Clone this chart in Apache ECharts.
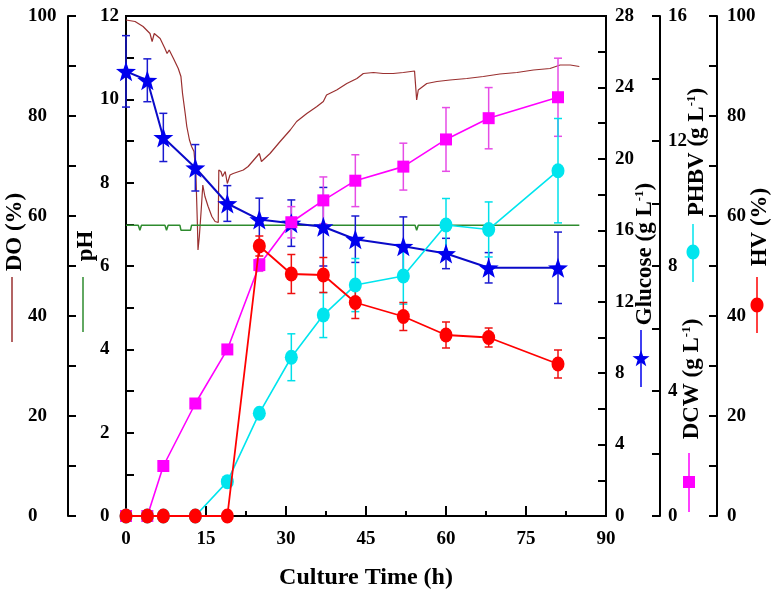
<!DOCTYPE html>
<html>
<head>
<meta charset="utf-8">
<script src="https://cdn.jsdelivr.net/npm/echarts@6/dist/echarts.min.js"></script>
<style>
  html, body { margin: 0; padding: 0; background: #fff; }
  #chart { width: 776px; height: 606px; }
</style>
</head>
<body>
<div id="chart"></div>
<script>
// sampling times (h)
const times = [0, 4, 7, 13, 19, 25, 31, 37, 43, 52, 60, 68, 81];

const glucose = [24.9, 24.4, 21.2, 19.5, 17.5, 16.6, 16.4, 16.2, 15.5, 15.1, 14.7, 13.9, 13.9];
const glucoseErr = [2.0, 1.2, 1.35, 1.3, 1.0, 1.2, 1.3, 2.2, 1.3, 1.65, 0.85, 0.85, 2.0];

const dcw = [0, 0, 1.6, 3.6, 5.33, 8.03, 9.4, 10.1, 10.73, 11.18, 12.05, 12.73, 13.4];
const dcwErr = [0, 0, 0.08, 0.12, 0.1, 0.2, 0.5, 0.75, 0.83, 0.75, 1.02, 0.98, 1.25];

const phbv = [0, 0, 0, 0, 1.1, 3.29, 5.08, 6.43, 7.39, 7.68, 9.31, 9.17, 11.05];
const phbvErr = [0, 0, 0, 0, 0, 0.1, 0.75, 0.72, 0.85, 0.9, 0.85, 0.88, 1.67];

const hv = [0, 0, 0, 0, 0, 54, 48.4, 48.2, 42.7, 39.9, 36.2, 35.7, 30.4];
const hvErr = [0, 0, 0, 0, 0, 2, 3.9, 3.5, 3.2, 2.8, 2.6, 1.9, 2.8];

// online probes [time, value]
const phReadings = [
  [0, 6.98], [2.3, 6.98], [2.6, 6.86], [2.9, 6.98], [7.3, 6.98], [7.6, 6.86], [7.9, 6.98],
  [10.1, 6.98], [10.3, 6.86], [12.1, 6.86], [12.3, 6.98], [54.2, 6.98], [54.5, 6.86],
  [54.8, 6.98], [85, 6.98]
];

const doReadings = [
  [0, 99.2], [1.7, 98.9], [3.2, 97.9], [4.5, 96.5], [4.9, 94.9], [5.3, 96.5], [6.4, 95.5],
  [7.3, 93.5], [7.7, 92.5], [8.1, 93.2], [8.9, 91.5], [9.8, 89.5], [10.3, 87.9], [10.6, 84.5],
  [11.1, 80.5], [11.4, 77.9], [11.9, 75.2], [12.3, 73.9], [12.75, 72.9], [13.1, 68.5],
  [13.4, 57.9], [13.5, 53.2], [13.75, 55.9], [14.1, 61.2], [14.4, 66.2], [14.8, 63.9],
  [15.4, 61.9], [16.1, 59.9], [16.7, 58.9], [17.3, 58.7], [17.4, 69.2], [17.8, 68.9],
  [18.1, 67.9], [18.6, 68.9], [19, 66.5], [19.5, 68.2], [20.1, 68.5], [22, 69.2], [22.9, 69.9],
  [24.2, 71.5], [25, 72.5], [25.4, 70.9], [27, 72.5], [28.9, 74.9], [30.8, 77.2], [32, 78.9],
  [33.9, 80.5], [35.8, 81.9], [37, 82.9], [37.6, 84.2], [39.5, 85.2], [41.4, 86.5],
  [43.3, 87.5], [44.5, 88.5], [46.4, 88.7], [48.2, 88.5], [50.1, 88.5], [52, 88.7],
  [54.1, 89], [54.5, 83.2], [54.8, 85.2], [56.4, 86.5], [58.3, 86.9], [60.75, 87.2],
  [63.9, 87.5], [67, 87.9], [70.1, 88.4], [73.3, 88.7], [76.4, 89.2], [79.5, 89.5],
  [81.4, 90.2], [83.3, 90.2], [85, 89.9]
];

const FONT = 'Liberation Serif';
const starPath = 'path://M0,-10L2.35,-3.24L9.51,-3.09L3.8,1.24L5.88,8.09L0,4.2L-5.88,8.09L-3.8,1.24L-9.51,-3.09L-2.35,-3.24Z';

function pairs (vals) {
  return times.map((t, i) => [t, vals[i]])
}

function errData (vals, errs) {
  const out = []
  times.forEach((t, i) => {
    if (errs[i] > 0) out.push([t, vals[i] - errs[i], vals[i] + errs[i]])
  })
  return out
}

function errSeries (vals, errs, yIdx, color) {
  return {
    type: 'custom',
    yAxisIndex: yIdx,
    data: errData(vals, errs),
    encode: { x: 0, y: [1, 2] },
    silent: true,
    z: 3,
    renderItem: function (params, api) {
      const x = api.value(0)
      const a = api.coord([x, api.value(1)])
      const b = api.coord([x, api.value(2)])
      const c = 4
      const st = { stroke: color, lineWidth: 1.5 }
      return {
        type: 'group',
        children: [
          { type: 'line', shape: { x1: a[0], y1: a[1], x2: b[0], y2: b[1] }, style: st },
          { type: 'line', shape: { x1: a[0] - c, y1: a[1], x2: a[0] + c, y2: a[1] }, style: st },
          { type: 'line', shape: { x1: b[0] - c, y1: b[1], x2: b[0] + c, y2: b[1] }, style: st }
        ]
      }
    }
  }
}

// labels in the original are left aligned on every axis
function yAxis (pos, offset, max, interval, margin) {
  return {
    type: 'value',
    position: pos,
    offset: offset,
    min: 0,
    max: max,
    interval: interval,
    axisLine: { show: true, lineStyle: { color: '#000', width: 2 } },
    axisTick: { show: true, inside: true, length: 8, lineStyle: { color: '#000', width: 2 } },
    minorTick: { show: true, splitNumber: 2, length: 8, lineStyle: { color: '#000', width: 2 } },
    splitLine: { show: false },
    axisLabel: { margin: margin, align: 'left', fontFamily: FONT, fontWeight: 'bold', fontSize: 19, color: '#000' }
  }
}

function vTitle (x, y, text) {
  return {
    type: 'text',
    x: x,
    y: y,
    rotation: Math.PI / 2,
    style: {
      text: text,
      font: 'bold 23px "Liberation Serif"',
      fill: '#000',
      align: 'center',
      verticalAlign: 'middle',
      rich: {
        sup: { font: 'bold 13px "Liberation Serif"', fill: '#000', verticalAlign: 'top', padding: [0, 0, 11, 0] }
      }
    }
  }
}

function vLine (x, y1, y2, color) {
  return { type: 'line', shape: { x1: x, y1: y1, x2: x, y2: y2 }, style: { stroke: color, lineWidth: 1.5 } }
}

// five-point star outline for the legend glyph
function starPoints (cx, cy, r) {
  const pts = []
  for (let k = 0; k < 10; k++) {
    const rr = k % 2 === 0 ? r : r * 0.4
    const ang = -Math.PI / 2 + k * Math.PI / 5
    pts.push([cx + rr * Math.cos(ang), cy + rr * Math.sin(ang)])
  }
  return pts
}

const chart = echarts.init(document.getElementById('chart'))

const option = {
  backgroundColor: '#fff',
  animation: false,
  grid: {
    left: 126, right: 170, top: 16, bottom: 90,
    show: true, borderColor: '#000', borderWidth: 2
  },
  xAxis: {
    type: 'value',
    min: 0,
    max: 90,
    interval: 15,
    name: 'Culture Time (h)',
    nameLocation: 'middle',
    nameGap: 50,
    nameTextStyle: { fontFamily: FONT, fontWeight: 'bold', fontSize: 24, color: '#000' },
    axisLine: { lineStyle: { color: '#000', width: 2 } },
    axisTick: { inside: true, length: 10, lineStyle: { color: '#000', width: 2 } },
    minorTick: { show: true, splitNumber: 2, length: 5, lineStyle: { color: '#000', width: 2 } },
    splitLine: { show: false },
    axisLabel: { margin: 14, fontFamily: FONT, fontWeight: 'bold', fontSize: 19, color: '#000' }
  },
  yAxis: [
    yAxis('left', 0, 12, 2, 26),     // pH
    yAxis('left', 58, 100, 20, 40),  // DO
    yAxis('right', 0, 28, 4, 9),     // Glucose
    yAxis('right', 54, 16, 4, 8),    // PHBV / DCW
    yAxis('right', 111, 100, 20, 10) // HV
  ],
  graphic: [
    vTitle(15, 232, 'DO (%)'),
    vLine(12, 277, 342, '#9a3030'),
    vTitle(86, 246, 'pH'),
    vLine(83, 277, 332, '#2e8b2e'),
    vTitle(645, 254, 'Glucose (g L{sup|-1})'),
    vLine(641, 330, 387, '#0000ee'),
    { type: 'polygon', shape: { points: starPoints(641, 359, 9) }, style: { fill: '#0000ee' } },
    vTitle(697, 152, 'PHBV (g L{sup|-1})'),
    vLine(693, 224, 282, '#00e5ee'),
    { type: 'ellipse', shape: { cx: 693, cy: 252, rx: 6.5, ry: 7.5 }, style: { fill: '#00e5ee' } },
    vTitle(692, 379, 'DCW (g L{sup|-1})'),
    vLine(689, 453, 512, '#ff00ff'),
    { type: 'rect', shape: { x: 683, y: 476, width: 12, height: 12 }, style: { fill: '#ff00ff' } },
    vTitle(760, 227, 'HV (%)'),
    vLine(757, 277, 333, '#ff0000'),
    { type: 'ellipse', shape: { cx: 757, cy: 305, rx: 6.5, ry: 7.5 }, style: { fill: '#ff0000' } }
  ],
  series: [
    {
      name: 'DO',
      type: 'line',
      yAxisIndex: 1,
      data: doReadings,
      showSymbol: false,
      lineStyle: { color: '#9a3030', width: 1.2 },
      z: 1
    },
    {
      name: 'pH',
      type: 'line',
      yAxisIndex: 0,
      data: phReadings,
      showSymbol: false,
      lineStyle: { color: '#2e8b2e', width: 1.5 },
      z: 1
    },
    errSeries(glucose, glucoseErr, 2, '#1a1ad0'),
    {
      name: 'Glucose',
      type: 'line',
      yAxisIndex: 2,
      data: pairs(glucose),
      symbol: starPath,
      symbolSize: 20,
      itemStyle: { color: '#0000ee' },
      lineStyle: { color: '#0a0ac8', width: 2 },
      z: 4
    },
    errSeries(dcw, dcwErr, 3, '#e64ce6'),
    {
      name: 'DCW',
      type: 'line',
      yAxisIndex: 3,
      data: pairs(dcw),
      symbol: 'rect',
      symbolSize: 12,
      itemStyle: { color: '#ff00ff' },
      lineStyle: { color: '#ff00ff', width: 1.6 },
      z: 4
    },
    errSeries(phbv, phbvErr, 3, '#00e0ea'),
    {
      name: 'PHBV',
      type: 'line',
      yAxisIndex: 3,
      data: pairs(phbv),
      symbol: 'circle',
      symbolSize: [13, 15],
      itemStyle: { color: '#00e5ee' },
      lineStyle: { color: '#00e5ee', width: 1.6 },
      z: 4
    },
    errSeries(hv, hvErr, 4, '#ee1010'),
    {
      name: 'HV',
      type: 'line',
      yAxisIndex: 4,
      data: pairs(hv),
      symbol: 'circle',
      symbolSize: [13, 15],
      itemStyle: { color: '#ff0000' },
      lineStyle: { color: '#ff0000', width: 1.8 },
      z: 5
    }
  ]
}

chart.setOption(option)
</script>
</body>
</html>
